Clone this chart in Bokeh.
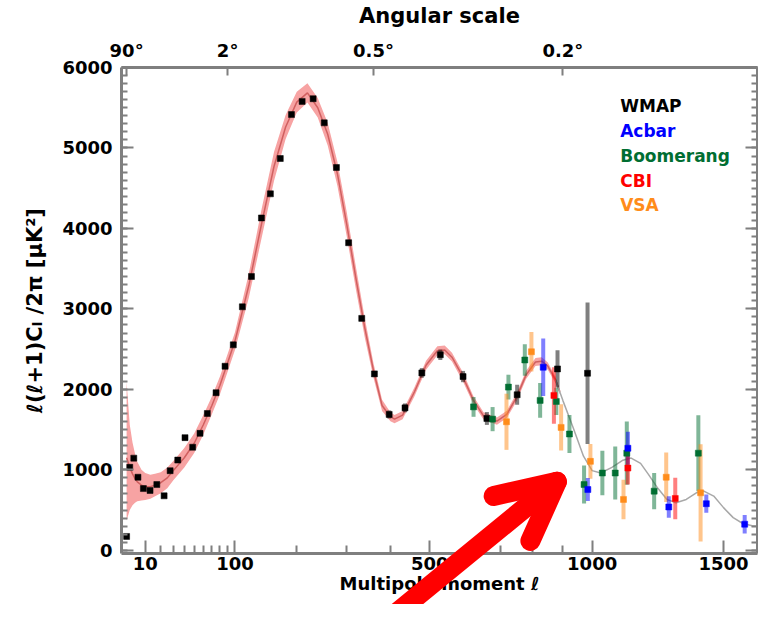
import numpy as np
from bokeh.plotting import figure
from bokeh.models import (Range1d, LinearAxis, FixedTicker, Label, Arrow,
                          OpenHead, ColumnDataSource, GridBox)
from bokeh.embed import file_html
from bokeh.resources import INLINE

# ---------------- data ----------------
band_l  = [2, 3, 4, 5, 6, 8, 10, 13, 16, 20, 25, 30, 40, 50, 60, 70, 80, 90,
           100, 120, 140, 160, 180, 200, 220, 240, 260, 280, 300, 320, 340,
           360, 380, 400, 410, 430, 460, 490, 520, 540, 560, 590, 620, 650,
           690, 720, 750, 780, 810, 830, 850, 875, 890]
band_d  = [1150, 1030, 950, 890, 850, 810, 790, 790, 810, 840, 900, 990, 1150,
           1330, 1560, 1800, 2050, 2330, 2600, 3290, 4070, 4770, 5260, 5570,
           5685, 5500, 5170, 4680, 4050, 3380, 2760, 2230, 1800, 1660, 1630,
           1680, 1970, 2300, 2480, 2490, 2400, 2160, 1870, 1670, 1605, 1690,
           1900, 2180, 2340, 2350, 2290, 2120, 1970]
band_lo = [370, 500, 560, 590, 610, 620, 625, 640, 670, 710, 770, 870, 1030,
           1210, 1440, 1690, 1940, 2220, 2490, 3140, 3890, 4590, 5110, 5440,
           5565, 5380, 5030, 4530, 3900, 3240, 2640, 2140, 1730, 1605, 1580,
           1630, 1915, 2245, 2425, 2435, 2345, 2105, 1820, 1625, 1560, 1645,
           1850, 2130, 2290, 2300, 2245, 2080, 1940]
band_hi = [2090, 1560, 1340, 1200, 1100, 1000, 960, 940, 950, 970, 1030, 1110,
           1270, 1450, 1680, 1910, 2160, 2440, 2710, 3440, 4250, 4950, 5410,
           5700, 5805, 5620, 5310, 4830, 4200, 3520, 2880, 2320, 1870, 1715,
           1680, 1730, 2025, 2355, 2535, 2545, 2455, 2215, 1920, 1715, 1650,
           1735, 1950, 2230, 2390, 2400, 2335, 2160, 2000]
tail_l = [875, 900, 935, 970, 1000, 1030, 1070, 1110, 1140, 1175, 1205, 1240,
          1275, 1310, 1350, 1390, 1420, 1460, 1500, 1540, 1580, 1620, 1690]
tail_d = [2120, 1860, 1520, 1170, 990, 960, 1030, 1120, 1146, 1080, 940, 770,
          632, 590, 632, 714, 735, 674, 530, 406, 333, 304, 292]

wmap_l = [2, 3, 4.5, 6.3, 9, 12.8, 17.2, 22.5, 27.3, 33.9, 40.7, 48.4, 56.3,
          64.6, 75.1, 86.6, 97.7, 110.5, 124, 139.5, 154, 170.7, 190.4, 210,
          231, 253, 278, 304, 333, 362, 397, 436, 479, 528, 591, 660, 752,
          882, 984]
wmap_v = [172, 1031, 1145, 908, 767, 743, 817, 677, 989, 1121, 1400, 1281,
          1453, 1700, 1958, 2287, 2553, 3026, 3403, 4130, 4430, 4869, 5415,
          5579, 5612, 5312, 4757, 3822, 2882, 2192, 1688, 1770, 2204, 2430,
          2159, 1638, 1933, 2254, 2200]
wmap_e = [0] * 30 + [50, 55, 60, 65, 70, 80, 123, 232, 880]

acbar_l = [835, 985, 1128, 1282, 1430, 1588]
acbar_v = [2275, 755, 1268, 538, 579, 324]
acbar_e = [357, 142, 205, 135, 113, 115]

boom_l = [621, 677, 725, 776, 825, 878, 922, 972, 1036, 1082, 1124, 1226, 1398]
boom_v = [1782, 1630, 2028, 2365, 1863, 1850, 1445, 817, 960, 960, 1207, 735, 1207]
boom_e = [123, 150, 154, 195, 215, 170, 236, 236, 277, 330, 392, 226, 472]

cbi_l = [870, 1128, 1307]
cbi_v = [1925, 1022, 644]
cbi_e = [351, 205, 257]

vsa_l = [719, 797, 894, 994, 1112, 1272, 1407]
vsa_v = [1597, 2467, 1527, 1105, 632, 908, 714]
vsa_e = [349, 246, 288, 215, 246, 308, 605]

x_major = [10, 100, 500, 1000, 1500]
x_minor = [20, 30, 40, 50, 60, 70, 80, 90, 200, 300, 400, 600, 700, 800, 900]
top_l = [2, 90, 360, 900]
top_labels = ["90°", "2°", "0.5°", "0.2°"]
y_major = [0, 1000, 2000, 3000, 4000, 5000, 6000]

legend_names = ["WMAP", "Acbar", "Boomerang", "CBI", "VSA"]
legend_y = [5517, 5209, 4901, 4594, 4286]

ARROW_FROM = (320, -1190)
ARROW_TO = (880, 850)

# ---------------- layout / styling ----------------
POW = 0.6
def xpos(l):
    return (np.asarray(l, dtype=float) ** POW)

W, H = 758, 604
B_LEFT, B_RIGHT, B_TOP, B_BOTTOM = 121, 1, 66, 51
XR = (0.84, 84.97)
YR = (-40, 6000)

FONT = "DejaVu Sans"
AXC = "#7f7f7f"
C_WMAP, C_ACBAR, C_BOOM, C_CBI, C_VSA = "#000000", "#0000ff", "#006e32", "#ff0000", "#ff8c1a"

p = figure(width=W, height=H, output_backend="svg", toolbar_location=None,
           x_range=Range1d(*XR), y_range=Range1d(*YR),
           min_border_left=B_LEFT, min_border_right=B_RIGHT,
           min_border_top=B_TOP, min_border_bottom=B_BOTTOM)
p.xgrid.visible = False
p.ygrid.visible = False
p.outline_line_color = None
p.frame_align = False


def style(ax, tick_in, minor_in, size="18px"):
    ax.axis_line_color = AXC
    ax.axis_line_width = 3
    ax.major_tick_line_color = AXC
    ax.major_tick_line_width = 2
    ax.minor_tick_line_color = AXC
    ax.minor_tick_line_width = 2
    ax.major_tick_out = 0
    ax.minor_tick_out = 0
    ax.major_tick_in = tick_in
    ax.minor_tick_in = minor_in
    ax.major_label_text_font = FONT
    ax.major_label_text_font_style = "bold"
    ax.major_label_text_font_size = size
    ax.major_label_text_color = "black"
    ax.axis_label_text_font = FONT
    ax.axis_label_text_font_style = "bold"
    ax.axis_label_text_color = "black"


xt = [float(v) for v in xpos(x_major)]
xm = [float(v) for v in xpos(x_minor)]
bx = p.xaxis[0]
bx.ticker = FixedTicker(ticks=xt, minor_ticks=xm)
bx.major_label_overrides = {t: str(l) for t, l in zip(xt, x_major)}
style(bx, 13, 8)
bx.major_label_standoff = 3
bx.axis_label = "Multipole moment ℓ"
bx.axis_label_text_font_size = "18px"
bx.axis_label_standoff = 0

tt = [float(v) for v in xpos(top_l)]
tax = LinearAxis(ticker=FixedTicker(ticks=tt, minor_ticks=[]),
                 major_label_overrides={t: s for t, s in zip(tt, top_labels)})
style(tax, 8, 0)
tax.major_label_standoff = 7
tax.axis_label = "Angular scale"
tax.axis_label_text_font_size = "21px"
tax.axis_label_standoff = 9
p.add_layout(tax, "above")

ly = p.yaxis[0]
ly.ticker = FixedTicker(ticks=y_major, minor_ticks=list(range(0, 6001, 100)))
style(ly, 12, 6)
ly.major_label_standoff = 9
ly.axis_label = "ℓ(ℓ+1)Cₗ /2π [μK²]"
ly.axis_label_text_font_size = "21px"
ly.axis_label_standoff = 12

ry = LinearAxis(ticker=FixedTicker(ticks=y_major, minor_ticks=list(range(0, 6001, 100))),
                major_label_overrides={float(t): "" for t in y_major})
style(ry, 12, 6)
ry.major_label_standoff = 0
p.add_layout(ry, "right")

p.varea(x=xpos(band_l), y1=band_lo, y2=band_hi, fill_color="#f7a3a3", fill_alpha=1.0)
p.line(xpos(band_l), band_d, line_color="#d06060", line_width=1.5)
p.line(xpos(tail_l), tail_d, line_color="#a8a8a8", line_width=1.5)

sets = [(wmap_l, wmap_v, wmap_e, C_WMAP), (boom_l, boom_v, boom_e, C_BOOM),
        (vsa_l, vsa_v, vsa_e, C_VSA), (acbar_l, acbar_v, acbar_e, C_ACBAR),
        (cbi_l, cbi_v, cbi_e, C_CBI)]
for ls, vs, es, c in sets:
    v = np.asarray(vs, float)
    e = np.asarray(es, float)
    src = ColumnDataSource(dict(x=xpos(ls), y=v, lo=v - e, hi=v + e))
    p.segment(x0="x", y0="lo", x1="x", y1="hi", source=src,
              line_color=c, line_alpha=0.5, line_width=4)
for ls, vs, es, c in sets:
    p.scatter(xpos(ls), vs, marker="square", size=6, fill_color=c,
              line_color=c, line_width=0.5)

for name, yv, c in zip(legend_names, legend_y,
                       [C_WMAP, C_ACBAR, C_BOOM, C_CBI, C_VSA]):
    p.add_layout(Label(x=float(xpos(1100)), y=yv, text=name, text_font=FONT,
                       text_font_style="bold", text_font_size="17px",
                       text_color=c, text_baseline="middle"))

# ---- transparent overlay figure in the same grid cell (frame = whole canvas) ----
fw = W - B_LEFT - B_RIGHT
fh = H - B_TOP - B_BOTTOM
sx = fw / (XR[1] - XR[0])
sy = fh / (YR[1] - YR[0])
ov = figure(width=W, height=H, output_backend="svg", toolbar_location=None,
            x_axis_type=None, y_axis_type=None, title=None,
            x_range=Range1d(XR[0] - B_LEFT / sx, XR[1] + B_RIGHT / sx),
            y_range=Range1d(YR[0] - B_BOTTOM / sy, YR[1] + B_TOP / sy),
            min_border_left=0, min_border_right=0, min_border_top=0,
            min_border_bottom=0,
            background_fill_color=None, border_fill_color=None)
ov.outline_line_color = None
ov.frame_align = False
ov.add_layout(Arrow(end=OpenHead(size=58, line_color="#ff0000", line_width=20,
                                 line_cap="round", line_join="round"),
                    x_start=float(xpos(ARROW_FROM[0])), y_start=ARROW_FROM[1],
                    x_end=float(xpos(ARROW_TO[0])), y_end=ARROW_TO[1],
                    line_color="#ff0000", line_width=20, line_cap="round"))

layout = GridBox(children=[(p, 0, 0), (ov, 0, 0)])

open("out.html", "w").write(file_html(layout, INLINE))
